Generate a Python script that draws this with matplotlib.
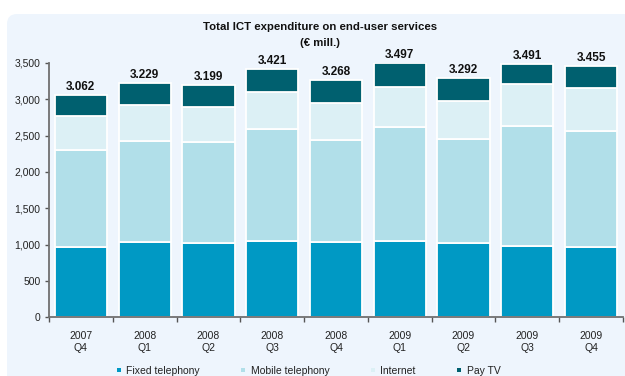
import matplotlib
matplotlib.use("Agg")
import matplotlib.pyplot as plt
from matplotlib.patches import FancyBboxPatch
from matplotlib.lines import Line2D
import numpy as np

plt.rcParams['font.family'] = ['Liberation Sans', 'DejaVu Sans']

# Quarterly spending on end-user services (EUR million)
years = ["2007", "2008", "2008", "2008", "2008", "2009", "2009", "2009", "2009"]
quarters = ["Q4", "Q1", "Q2", "Q3", "Q4", "Q1", "Q2", "Q3", "Q4"]
fixed = [970, 1036, 1022, 1049, 1031, 1049, 1022, 981, 963]
mobile = [1330, 1385, 1394, 1537, 1408, 1569, 1431, 1655, 1600]
internet = [475, 495, 481, 513, 513, 546, 526, 569, 587]
totals = [3062, 3229, 3199, 3421, 3268, 3497, 3292, 3491, 3455]
total_labels = ["3.062", "3.229", "3.199", "3.421", "3.268", "3.497", "3.292", "3.491", "3.455"]
pay_tv = [t - f - m - i for t, f, m, i in zip(totals, fixed, mobile, internet)]

series = ["Fixed telephony", "Mobile telephony", "Internet", "Pay TV"]
colors = ["#0099C4", "#B1DFE9", "#DCF0F5", "#00606F"]

W, H = 625, 376
fig = plt.figure(figsize=(W / 100, H / 100), dpi=100)
fig.patch.set_facecolor("white")

# light rounded panel behind the chart
panel = FancyBboxPatch((7, -12), W + 10 - 7, H - 14 + 12,
                       boxstyle="round,pad=0,rounding_size=10",
                       transform=None, facecolor="#EEF5FD", edgecolor="none",
                       linewidth=0, zorder=-5)
fig.patches.append(panel)

ax = fig.add_axes([49 / W, 1 - 317.3 / H, (623 - 49) / W, (317.3 - 63) / H])
ax.set_facecolor("none")
ax.set_zorder(2)

x = np.arange(len(totals))
bottom = np.zeros(len(totals))
for vals, col in zip([fixed, mobile, internet, pay_tv], colors):
    ax.bar(x, vals, width=0.82, bottom=bottom, color=col,
           edgecolor="white", linewidth=1.3, zorder=2)
    bottom += np.array(vals)

for xi, t, lab in zip(x, totals, total_labels):
    ax.annotate(lab, (xi, t), xytext=(0, 1.5), textcoords="offset points",
                ha="center", va="bottom", fontsize=8.5, fontweight="bold",
                color="#111111")

ax.set_xlim(-0.5, len(totals) - 0.5)
ax.set_ylim(0, 3500)
ax.set_yticks(np.arange(0, 3501, 500))
ax.set_yticklabels([f"{v:,}" for v in range(0, 3501, 500)])

ax.set_xticks(x)
ax.set_xticklabels([f"{y}\n{q}" for y, q in zip(years, quarters)])
ax.set_xticks(np.arange(-0.5, len(totals), 1), minor=True)
ax.tick_params(axis="x", which="major", length=0, pad=10, labelsize=7.5, colors="#222222")
ax.tick_params(axis="x", which="minor", length=3.5, width=1, color="#555555", direction="out")
ax.tick_params(axis="y", length=3, width=1, color="#555555", labelsize=7.5,
               labelcolor="#222222", pad=3)

for s in ["top", "right"]:
    ax.spines[s].set_visible(False)
for s in ["left", "bottom"]:
    ax.spines[s].set_color("#707070")
    ax.spines[s].set_linewidth(1.3)

fig.text(320 / W, 1 - 26.7 / H, "Total ICT expenditure on end-user services",
         ha="center", va="center", fontsize=8.2, fontweight="bold", color="#111111")
fig.text(320 / W, 1 - 42.7 / H, "(€ mill.)",
         ha="center", va="center", fontsize=8.2, fontweight="bold", color="#111111")

handles = [Line2D([], [], marker="s", linestyle="none", markersize=3,
                  markerfacecolor=c, markeredgewidth=0)
           for c in colors]
fig.legend(handles, series, loc="center", bbox_to_anchor=(308 / W, 1 - 370.5 / H),
           ncol=4, frameon=False, fontsize=7.5, handlelength=0.6, handletextpad=0.4,
           columnspacing=3.9, borderpad=0, labelcolor="#222222")

fig.savefig("out.png", dpi=100, facecolor="white")
